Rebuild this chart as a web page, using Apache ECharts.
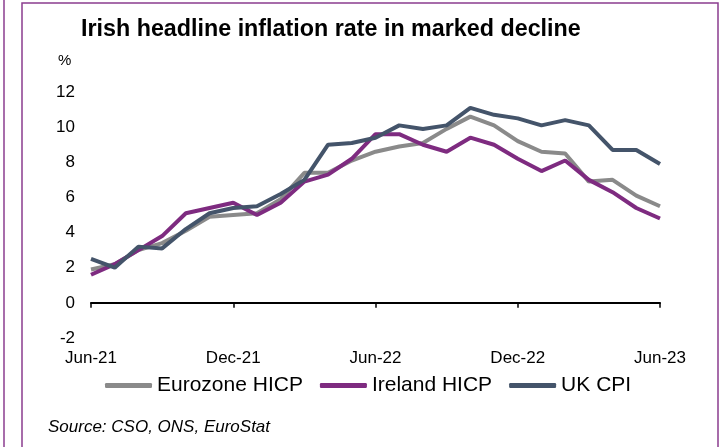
<!DOCTYPE html>
<html>
<head>
<meta charset="utf-8">
<script src="https://cdn.jsdelivr.net/npm/echarts@6/dist/echarts.min.js"></script>
<style>
  html, body { margin: 0; padding: 0; background: #fff; }
  #main { width: 720px; height: 447px; }
</style>
</head>
<body>
<div id="main"></div>
<script>
// monthly, Jun-21 .. Jun-23
var months = ['Jun-21','Jul-21','Aug-21','Sep-21','Oct-21','Nov-21','Dec-21',
  'Jan-22','Feb-22','Mar-22','Apr-22','May-22','Jun-22','Jul-22','Aug-22','Sep-22','Oct-22','Nov-22','Dec-22',
  'Jan-23','Feb-23','Mar-23','Apr-23','May-23','Jun-23'];
var eurozone = [1.9,2.2,3.0,3.4,4.1,4.9,5.0,5.1,5.9,7.4,7.4,8.1,8.6,8.9,9.1,9.9,10.6,10.1,9.2,8.6,8.5,6.9,7.0,6.1,5.5];
var ireland  = [1.6,2.2,3.0,3.8,5.1,5.4,5.7,5.0,5.7,6.9,7.3,8.2,9.6,9.6,9.0,8.6,9.4,9.0,8.2,7.5,8.1,7.0,6.3,5.4,4.8];
var ukCpi    = [2.5,2.0,3.2,3.1,4.2,5.1,5.4,5.5,6.2,7.0,9.0,9.1,9.4,10.1,9.9,10.1,11.1,10.7,10.5,10.1,10.4,10.1,8.7,8.7,7.9];
var seriesNames = ['Eurozone HICP','Ireland HICP','UK CPI'];
var colors = ['#8a8a8a','#7e2b80','#44546a'];

var font = 'Liberation Sans, Arial, sans-serif';
var chart = echarts.init(document.getElementById('main'));

var option = {
  backgroundColor: '#fff',
  animation: false,
  title: {
    text: 'Irish headline inflation rate in marked decline',
    left: 76, top: 13,
    textStyle: { fontFamily: font, fontSize: 23.3, fontWeight: 'bold', color: '#000' }
  },
  legend: {
    data: seriesNames,
    left: 100, top: 370,
    icon: 'roundRect',
    itemWidth: 47, itemHeight: 5,
    itemGap: 17,
    textStyle: { fontFamily: font, fontSize: 21, color: '#000' }
  },
  grid: { left: 91, right: 60, top: 92, bottom: 109 },
  xAxis: {
    type: 'category',
    data: months,
    boundaryGap: false,
    axisLine: { onZero: true, lineStyle: { color: '#000', width: 2 } },
    axisTick: { interval: 5, length: 5, lineStyle: { color: '#000', width: 1.5 } },
    axisLabel: { interval: 5, margin: 12, fontFamily: font, fontSize: 17, color: '#000' },
    splitLine: { show: false }
  },
  yAxis: {
    type: 'value',
    min: -2, max: 12, interval: 2,
    axisLine: { show: false },
    axisTick: { show: false },
    splitLine: { show: false },
    axisLabel: { margin: 16, fontFamily: font, fontSize: 17, color: '#000' }
  },
  series: [
    { name: seriesNames[0], type: 'line', data: eurozone, showSymbol: false,
      lineStyle: { width: 4, color: colors[0] }, itemStyle: { color: colors[0] } },
    { name: seriesNames[1], type: 'line', data: ireland, showSymbol: false,
      lineStyle: { width: 4, color: colors[1] }, itemStyle: { color: colors[1] } },
    { name: seriesNames[2], type: 'line', data: ukCpi, showSymbol: false,
      lineStyle: { width: 4, color: colors[2] }, itemStyle: { color: colors[2] } }
  ],
  graphic: [
    // panel borders
    { type: 'line', shape: { x1: 4, y1: 0, x2: 4, y2: 447 }, style: { stroke: '#8b3d8f', lineWidth: 1.5 } },
    { type: 'polyline', shape: { points: [[22, 447], [22, 3], [718, 3], [718, 447]] },
      style: { stroke: '#8b3d8f', lineWidth: 1.5, fill: null } },
    { type: 'text', left: 58, top: 53,
      style: { text: '%', font: '15px ' + font, fill: '#000' } },
    { type: 'text', left: 48, top: 419,
      style: { text: 'Source: CSO, ONS, EuroStat', font: 'italic 17px ' + font, fill: '#000' } }
  ]
};
chart.setOption(option);
</script>
</body>
</html>
